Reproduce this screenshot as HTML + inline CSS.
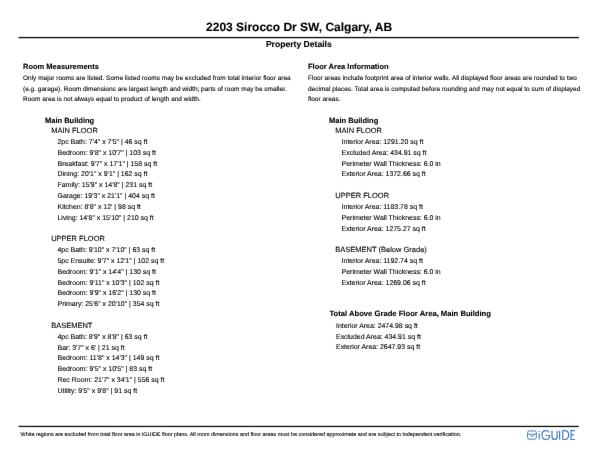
<!DOCTYPE html>
<html><head><meta charset="utf-8"><style>
html,body{margin:0;padding:0;background:#fff;}
body{width:600px;height:464px;overflow:hidden;}
#pg{position:absolute;left:0;top:0;width:600px;height:464px;background:#fff;overflow:hidden;will-change:transform;filter:url(#bf);font-family:"Liberation Sans",sans-serif;color:#000;text-rendering:geometricPrecision;}
.t{position:absolute;white-space:pre;line-height:0;-webkit-text-stroke:0.1px #000;}
.c{transform:translateX(-50%);}
</style></head><body><svg width="0" height="0" style="position:absolute"><filter id="bf" x="0" y="0" width="600" height="464" filterUnits="userSpaceOnUse" color-interpolation-filters="sRGB"><feConvolveMatrix order="3" kernelMatrix="0 1 0 1 20 1 0 1 0" divisor="24" edgeMode="duplicate" preserveAlpha="true"/></filter></svg><div id="pg">
<div class="t c" style="left:299.10px;top:27px;font-size:12px;font-weight:bold;">2203 Sirocco Dr SW, Calgary, AB</div>
<div class="t c" style="left:298.85px;top:44px;font-size:8.6px;font-weight:bold;">Property Details</div>
<div class="t" style="left:23.00px;top:67px;font-size:7.5px;font-weight:bold;">Room Measurements</div>
<div class="t" style="left:308.00px;top:67px;font-size:7.5px;font-weight:bold;">Floor Area Information</div>
<div class="t" style="left:23.00px;top:79px;font-size:6.5px;">Only major rooms are listed. Some listed rooms may be excluded from total interior floor area</div>
<div class="t" style="left:23.00px;top:90px;font-size:6.5px;">(e.g. garage). Room dimensions are largest length and width; parts of room may be smaller.</div>
<div class="t" style="left:23.00px;top:100px;font-size:6.5px;">Room area is not always equal to product of length and width.</div>
<div class="t" style="left:308.00px;top:79px;font-size:6.5px;">Floor areas include footprint area of interior walls. All displayed floor areas are rounded to two</div>
<div class="t" style="left:308.00px;top:90px;font-size:6.5px;">decimal places. Total area is computed before rounding and may not equal to sum of displayed</div>
<div class="t" style="left:308.00px;top:100px;font-size:6.5px;">floor areas.</div>
<div class="t" style="left:45.00px;top:121px;font-size:7.5px;font-weight:bold;">Main Building</div>
<div class="t" style="left:51.20px;top:131px;font-size:7.5px;">MAIN FLOOR</div>
<div class="t" style="left:57.50px;top:143px;font-size:6.95px;">2pc Bath: 7'4" x 7'5" | 46 sq ft</div>
<div class="t" style="left:57.50px;top:154px;font-size:6.95px;">Bedroom: 9'8" x 10'7" | 103 sq ft</div>
<div class="t" style="left:57.50px;top:165px;font-size:6.95px;">Breakfast: 9'7" x 17'1" | 158 sq ft</div>
<div class="t" style="left:57.50px;top:175px;font-size:6.95px;">Dining: 20'1" x 9'1" | 162 sq ft</div>
<div class="t" style="left:57.50px;top:186px;font-size:6.95px;">Family: 15'9" x 14'8" | 231 sq ft</div>
<div class="t" style="left:57.50px;top:197px;font-size:6.95px;">Garage: 19'3" x 21'1" | 404 sq ft</div>
<div class="t" style="left:57.50px;top:208px;font-size:6.95px;">Kitchen: 8'8" x 12' | 98 sq ft</div>
<div class="t" style="left:57.50px;top:219px;font-size:6.95px;">Living: 14'8" x 15'10" | 210 sq ft</div>
<div class="t" style="left:51.20px;top:239px;font-size:7.5px;">UPPER FLOOR</div>
<div class="t" style="left:57.50px;top:251px;font-size:6.95px;">4pc Bath: 9'10" x 7'10" | 63 sq ft</div>
<div class="t" style="left:57.50px;top:262px;font-size:6.95px;">5pc Ensuite: 9'7" x 12'1" | 102 sq ft</div>
<div class="t" style="left:57.50px;top:273px;font-size:6.95px;">Bedroom: 9'1" x 14'4" | 130 sq ft</div>
<div class="t" style="left:57.50px;top:284px;font-size:6.95px;">Bedroom: 9'11" x 10'3" | 102 sq ft</div>
<div class="t" style="left:57.50px;top:294px;font-size:6.95px;">Bedroom: 9'9" x 16'2" | 130 sq ft</div>
<div class="t" style="left:57.50px;top:305px;font-size:6.95px;">Primary: 25'6" x 20'10" | 354 sq ft</div>
<div class="t" style="left:51.20px;top:326px;font-size:7.5px;">BASEMENT</div>
<div class="t" style="left:57.50px;top:338px;font-size:6.95px;">4pc Bath: 8'9" x 8'8" | 63 sq ft</div>
<div class="t" style="left:57.50px;top:349px;font-size:6.95px;">Bar: 3'7" x 6' | 21 sq ft</div>
<div class="t" style="left:57.50px;top:359px;font-size:6.95px;">Bedroom: 11'8" x 14'3" | 149 sq ft</div>
<div class="t" style="left:57.50px;top:370px;font-size:6.95px;">Bedroom: 9'5" x 10'5" | 83 sq ft</div>
<div class="t" style="left:57.50px;top:381px;font-size:6.95px;">Rec Room: 21'7" x 34'1" | 556 sq ft</div>
<div class="t" style="left:57.50px;top:392px;font-size:6.95px;">Utility: 9'5" x 9'8" | 91 sq ft</div>
<div class="t" style="left:329.10px;top:121px;font-size:7.5px;font-weight:bold;">Main Building</div>
<div class="t" style="left:335.30px;top:131px;font-size:7.5px;">MAIN FLOOR</div>
<div class="t" style="left:341.60px;top:143px;font-size:6.95px;">Interior Area: 1291.20 sq ft</div>
<div class="t" style="left:341.60px;top:154px;font-size:6.95px;">Excluded Area: 434.91 sq ft</div>
<div class="t" style="left:341.60px;top:165px;font-size:6.95px;">Perimeter Wall Thickness: 6.0 in</div>
<div class="t" style="left:341.60px;top:175px;font-size:6.95px;">Exterior Area: 1372.66 sq ft</div>
<div class="t" style="left:335.30px;top:196px;font-size:7.5px;">UPPER FLOOR</div>
<div class="t" style="left:341.60px;top:208px;font-size:6.95px;">Interior Area: 1183.78 sq ft</div>
<div class="t" style="left:341.60px;top:219px;font-size:6.95px;">Perimeter Wall Thickness: 6.0 in</div>
<div class="t" style="left:341.60px;top:230px;font-size:6.95px;">Exterior Area: 1275.27 sq ft</div>
<div class="t" style="left:335.30px;top:250px;font-size:7.5px;">BASEMENT (Below Grade)</div>
<div class="t" style="left:341.60px;top:262px;font-size:6.95px;">Interior Area: 1192.74 sq ft</div>
<div class="t" style="left:341.60px;top:273px;font-size:6.95px;">Perimeter Wall Thickness: 6.0 in</div>
<div class="t" style="left:341.60px;top:284px;font-size:6.95px;">Exterior Area: 1269.06 sq ft</div>
<div class="t" style="left:329.50px;top:314px;font-size:7.65px;font-weight:bold;">Total Above Grade Floor Area, Main Building</div>
<div class="t" style="left:336.00px;top:327px;font-size:6.95px;">Interior Area: 2474.98 sq ft</div>
<div class="t" style="left:336.00px;top:338px;font-size:6.95px;">Excluded Area: 434.91 sq ft</div>
<div class="t" style="left:336.00px;top:348px;font-size:6.95px;">Exterior Area: 2647.93 sq ft</div>
<div class="t" style="left:20.60px;top:435px;font-size:5.43px;">White regions are excluded from total floor area in iGUIDE floor plans. All room dimensions and floor areas must be considered approximate and are subject to independent verification.</div>
<svg style="position:absolute;left:0;top:0" width="600" height="464"><rect x="18.5" y="36.9" width="560.4" height="1.35" fill="#111"/><rect x="18.6" y="425.8" width="560.1" height="1.3" fill="#111"/></svg>
<svg style="position:absolute;left:0;top:0" width="600" height="464" viewBox="0 0 600 464">
<g fill="none" stroke="#3f7ec0" stroke-width="1.0">
<rect x="527.6" y="430.9" width="8.7" height="8.3" rx="1.6"/>
<path d="M527.6 434.2 H531.0 M533.6 434.2 H536.3"/>
<circle cx="532.3" cy="435.3" r="1.25"/>
</g>
<g fill="none" stroke="#3f7ec0" stroke-width="1.2">
<path d="M539.2 433.3 V439.6"/>
<path d="M539.2 430.9 V432.0"/>
<path d="M549.4 432.3 Q548.0 430.7 545.9 430.7 Q542.0 430.7 542.0 435.1 Q542.0 439.5 545.9 439.5 Q548.6 439.5 549.6 437.2 V435.5 H545.7"/>
<path d="M552.0 430.7 V436.2 Q552.0 439.5 554.6 439.5 Q557.2 439.5 557.2 436.2 V430.7"/>
<path d="M559.6 430.7 V439.6"/>
<path d="M562.8 430.7 V439.5 H564.8 Q568.6 439.5 568.6 435.1 Q568.6 430.7 564.8 430.7 Z"/>
<path d="M574.9 430.7 H571.0 V439.5 H574.9 M571.0 434.8 H574.2"/>
</g>
</svg>
</div></body></html>
